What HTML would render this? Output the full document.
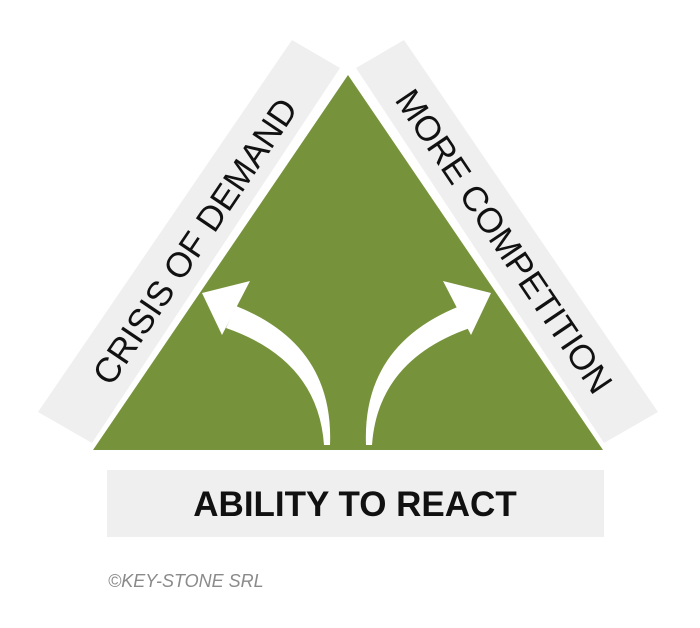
<!DOCTYPE html>
<html><head><style>
html,body{margin:0;padding:0;background:#fff;}
svg{display:block;}
</style></head><body>
<svg width="700" height="628" viewBox="0 0 700 628" xmlns="http://www.w3.org/2000/svg">
<polygon points="292,40 340,68 92,443 38,412" fill="#efefef"/>
<polygon points="404,40 356,68 604,443 658,412" fill="#efefef"/>
<polygon points="348,75 603,450 93,450" fill="#76933c"/>
<rect x="107" y="470" width="497" height="67" fill="#efefef"/>
<text x="355" y="516" text-anchor="middle" font-family="Liberation Sans, sans-serif" font-weight="bold" font-size="35" fill="#111">ABILITY TO REACT</text>
<text transform="translate(205,248) rotate(-56)" text-anchor="middle" font-family="Liberation Sans, sans-serif" font-size="35" fill="#111">CRISIS OF DEMAND</text>
<text transform="translate(494,248) rotate(56)" text-anchor="middle" font-family="Liberation Sans, sans-serif" font-size="35" fill="#111">MORE COMPETITION</text>
<path d="M330,445 Q334,345 236,306 L226,328 Q318,360 324,445 Z" fill="#fff"/>
<polygon points="202,293 250,281 222,335" fill="#fff"/>
<path d="M366,445 Q362,345 460,306 L470,328 Q378,360 372,445 Z" fill="#fff"/>
<polygon points="491,293 443,281 471,335" fill="#fff"/>
<text x="108" y="587" font-family="Liberation Sans, sans-serif" font-style="italic" font-size="18" fill="#8a8a8a">©KEY-STONE SRL</text>
</svg>
</body></html>
